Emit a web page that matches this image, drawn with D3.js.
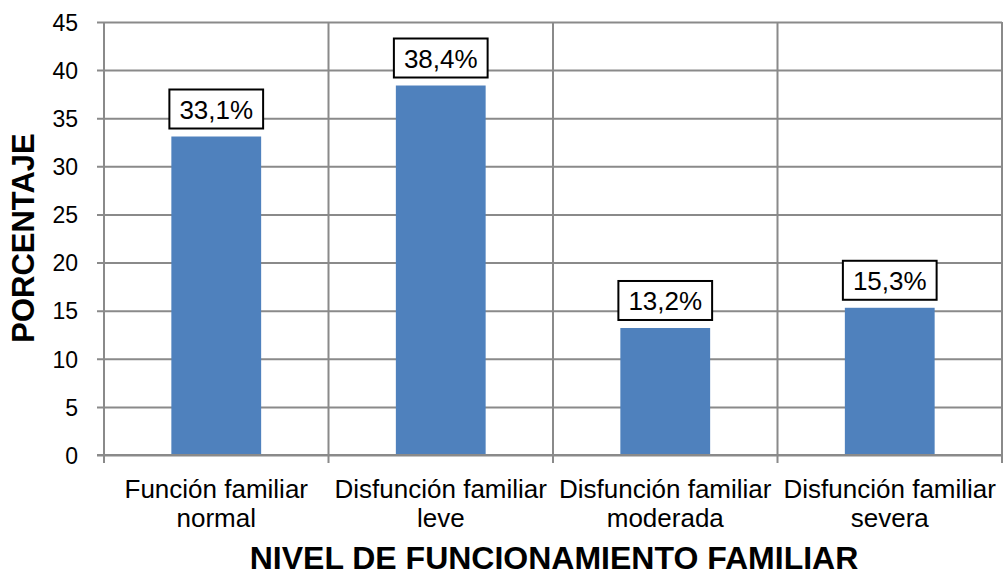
<!DOCTYPE html>
<html>
<head>
	<script src="https://d3js.org/d3.v7.min.js"></script>
	<style>
		body { margin: 0; background: #fff; }
		text { font-family: "Liberation Sans", Arial, sans-serif; fill: #000; }
		.axes_titles { font-size: 32px; font-weight: bold; }
	</style>
</head>
<body>
	<script>
		// bar chart: nivel de funcionamiento familiar (%)
		var categories = [
			["Función familiar", "normal"],
			["Disfunción familiar", "leve"],
			["Disfunción familiar", "moderada"],
			["Disfunción familiar", "severa"]
		];
		var values = [33.1, 38.4, 13.2, 15.3];
		var valueLabels = ["33,1%", "38,4%", "13,2%", "15,3%"];
		var yTicks = [0, 5, 10, 15, 20, 25, 30, 35, 40, 45];

		var width = 1008;
		var height = 577;
		var margin = { top: 22, right: 6, bottom: 122, left: 104 };

		var svg = d3.select("body")
			.append("svg")
			.attr("width", width)
			.attr("height", height);

		var xScale = d3.scaleBand()
			.domain(d3.range(categories.length))
			.range([margin.left, width - margin.right])
			.paddingInner(0.6)
			.paddingOuter(0.3);
		var yScale = d3.scaleLinear()
			.domain([0, 45])
			.range([height - margin.bottom, margin.top]);

		var grey = "#8a8a8a";

		// horizontal gridlines + y axis
		var yAxis = d3.axisLeft(yScale)
			.tickValues(yTicks)
			.tickFormat(d3.format("d"));
		var gy = svg.append("g")
			.attr("transform", "translate(" + [margin.left, 0] + ")")
			.call(yAxis);
		gy.select(".domain").remove();
		gy.selectAll(".tick line")
			.attr("stroke", grey)
			.attr("stroke-width", 2)
			.attr("x1", -7)
			.attr("x2", width - margin.right - margin.left);
		gy.selectAll(".tick text")
			.attr("x", -26)
			.attr("dy", "0.36em")
			.style("font-size", "23px")
			.style("font-family", "'Liberation Sans', Arial, sans-serif")
			.attr("fill", "#000");

		// vertical gridlines at category boundaries
		var step = xScale.step();
		var bounds = d3.range(categories.length + 1).map(function(i) { return margin.left + i * step; });
		svg.selectAll(".vgrid")
			.data(bounds)
			.enter()
			.append("line")
			.attr("class", "vgrid")
			.attr("x1", function(d) { return d; })
			.attr("x2", function(d) { return d; })
			.attr("y1", yScale(45))
			.attr("y2", yScale(0) + 8)
			.attr("stroke", grey)
			.attr("stroke-width", 2);

		// bars
		svg.selectAll(".bar")
			.data(values)
			.enter()
			.append("rect")
			.attr("class", "bar")
			.attr("x", function(d, i) { return xScale(i); })
			.attr("y", function(d) { return yScale(d); })
			.attr("width", xScale.bandwidth())
			.attr("height", function(d) { return yScale(0) - yScale(d); })
			.attr("fill", "#4f81bd");

		// bottom axis line
		svg.append("line")
			.attr("x1", margin.left - 7)
			.attr("x2", width - margin.right)
			.attr("y1", yScale(0))
			.attr("y2", yScale(0))
			.attr("stroke", grey)
			.attr("stroke-width", 2);

		// value labels in boxes
		var lab = svg.selectAll(".vlabel")
			.data(values)
			.enter()
			.append("g")
			.attr("class", "vlabel")
			.attr("transform", function(d, i) {
				return "translate(" + [xScale(i) + xScale.bandwidth() / 2, yScale(d) - 8] + ")";
			});
		var boxes = lab.append("rect")
			.attr("y", -39)
			.attr("height", 39)
			.attr("fill", "#fff")
			.attr("stroke", "#000")
			.attr("stroke-width", 2);
		var labText = lab.append("text")
			.attr("text-anchor", "middle")
			.attr("y", -10)
			.style("font-size", "26px")
			.text(function(d, i) { return valueLabels[i]; });
		labText.each(function(d, i) {
			var w = this.getComputedTextLength() + 20;
			d3.select(boxes.nodes()[i]).attr("x", -w / 2).attr("width", w);
		});

		// category labels
		var cat = svg.selectAll(".cat")
			.data(categories)
			.enter()
			.append("text")
			.attr("class", "cat")
			.attr("text-anchor", "middle")
			.style("font-size", "26px")
			.attr("transform", function(d, i) {
				return "translate(" + [xScale(i) + xScale.bandwidth() / 2, 498] + ")";
			});
		cat.selectAll("tspan")
			.data(function(d) { return d; })
			.enter()
			.append("tspan")
			.attr("x", 0)
			.attr("dy", function(d, j) { return j === 0 ? 0 : 29; })
			.text(function(d) { return d; });

		// axis titles
		svg.append("text")
			.attr("class", "axes_titles")
			.attr("text-anchor", "middle")
			.attr("x", 554)
			.attr("y", 569)
			.text("NIVEL DE FUNCIONAMIENTO FAMILIAR");
		svg.append("text")
			.attr("class", "axes_titles")
			.attr("text-anchor", "middle")
			.style("font-size", "31px")
			.attr("transform", "translate(" + [34, 238] + ") rotate(-90)")
			.text("PORCENTAJE");
	</script>
</body>
</html>
